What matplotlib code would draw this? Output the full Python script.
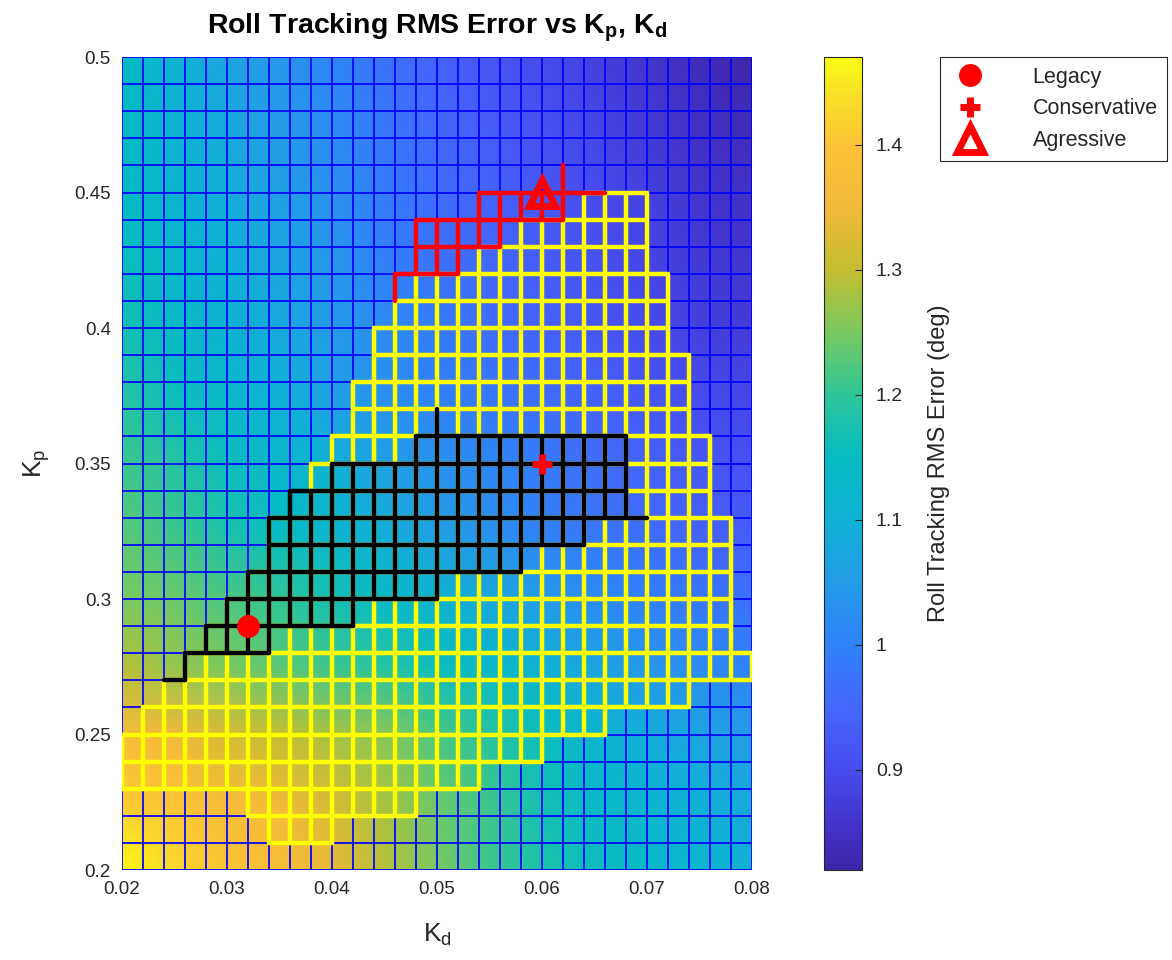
import numpy as np
import matplotlib
matplotlib.use('Agg')
import matplotlib.pyplot as plt
from matplotlib.colors import LinearSegmentedColormap
from matplotlib.collections import LineCollection

plt.rcParams['font.family'] = ['Liberation Sans', 'DejaVu Sans']
plt.rcParams['mathtext.fontset'] = 'custom'
plt.rcParams['mathtext.rm'] = 'Liberation Sans'
plt.rcParams['mathtext.it'] = 'Liberation Sans:italic'
plt.rcParams['mathtext.bf'] = 'Liberation Sans:bold'
plt.rcParams['mathtext.default'] = 'regular'

# Gain sweep grid
kd_grid = np.round(np.arange(0.02, 0.0801, 0.002), 3)
kp_grid = np.round(np.arange(0.20, 0.5001, 0.01), 2)

# RMS roll error (deg), sampled every 0.005 in Kd and 0.025 in Kp
kd_coarse = [0.020, 0.025, 0.030, 0.035, 0.040, 0.045, 0.050,
             0.055, 0.060, 0.065, 0.070, 0.075, 0.080]
kp_coarse = [0.200, 0.225, 0.250, 0.275, 0.300, 0.325, 0.350,
             0.375, 0.400, 0.425, 0.450, 0.475, 0.500]
rms_err = [
    [1.47, 1.43, 1.40, 1.38, 1.34, 1.29, 1.25, 1.21, 1.18, 1.16, 1.14, 1.12, 1.10],
    [1.41, 1.40, 1.37, 1.35, 1.32, 1.28, 1.24, 1.21, 1.17, 1.14, 1.12, 1.10, 1.08],
    [1.37, 1.35, 1.32, 1.30, 1.28, 1.26, 1.22, 1.19, 1.16, 1.12, 1.09, 1.07, 1.05],
    [1.29, 1.27, 1.25, 1.23, 1.21, 1.19, 1.16, 1.13, 1.10, 1.07, 1.04, 1.02, 1.00],
    [1.25, 1.24, 1.22, 1.20, 1.17, 1.14, 1.11, 1.08, 1.05, 1.02, 1.00, 0.98, 0.97],
    [1.23, 1.21, 1.18, 1.15, 1.12, 1.09, 1.06, 1.03, 1.00, 0.98, 0.96, 0.94, 0.93],
    [1.21, 1.19, 1.16, 1.13, 1.10, 1.06, 1.03, 1.01, 0.99, 0.96, 0.94, 0.92, 0.91],
    [1.19, 1.16, 1.13, 1.10, 1.06, 1.03, 1.00, 0.98, 0.96, 0.94, 0.92, 0.90, 0.89],
    [1.17, 1.14, 1.11, 1.08, 1.05, 1.02, 0.99, 0.96, 0.94, 0.92, 0.90, 0.88, 0.87],
    [1.16, 1.13, 1.10, 1.07, 1.04, 1.00, 0.97, 0.95, 0.93, 0.91, 0.89, 0.87, 0.86],
    [1.15, 1.12, 1.09, 1.06, 1.03, 0.99, 0.96, 0.94, 0.92, 0.90, 0.88, 0.86, 0.85],
    [1.15, 1.11, 1.08, 1.05, 1.02, 0.98, 0.95, 0.93, 0.91, 0.89, 0.87, 0.85, 0.84],
    [1.15, 1.11, 1.07, 1.04, 1.01, 0.97, 0.94, 0.92, 0.90, 0.88, 0.86, 0.84, 0.82],
]

# Regions on the grid: Kd span of the nodes in each Kp row
yellow_kp = [0.21, 0.22, 0.23, 0.24, 0.25, 0.26, 0.27, 0.28, 0.29, 0.30, 0.31, 0.32, 0.33,
             0.34, 0.35, 0.36, 0.37, 0.38, 0.39, 0.40, 0.41, 0.42, 0.43, 0.44, 0.45]
yellow_lo = [0.034, 0.032, 0.020, 0.020, 0.020, 0.022, 0.024, 0.026, 0.028, 0.030, 0.032, 0.034, 0.034,
             0.038, 0.038, 0.040, 0.042, 0.042, 0.044, 0.044, 0.046, 0.048, 0.054, 0.058, 0.064]
yellow_hi = [0.040, 0.048, 0.054, 0.060, 0.066, 0.074, 0.080, 0.080, 0.078, 0.078, 0.078, 0.078, 0.078,
             0.076, 0.076, 0.076, 0.074, 0.074, 0.074, 0.072, 0.072, 0.072, 0.070, 0.070, 0.070]

black_kp = [0.27, 0.28, 0.29, 0.30, 0.31, 0.32, 0.33, 0.34, 0.35, 0.36, 0.37]
black_lo = [0.024, 0.026, 0.028, 0.030, 0.032, 0.034, 0.034, 0.036, 0.040, 0.048, 0.050]
black_hi = [0.026, 0.034, 0.042, 0.050, 0.058, 0.064, 0.070, 0.068, 0.068, 0.068, 0.050]

red_kp = [0.41, 0.42, 0.43, 0.44, 0.45, 0.46]
red_lo = [0.046, 0.046, 0.048, 0.048, 0.054, 0.062]
red_hi = [0.046, 0.052, 0.056, 0.062, 0.066, 0.062]

# Gain sets
legacy = (0.032, 0.29)
conservative = (0.06, 0.35)
aggressive = (0.06, 0.45)

parula = LinearSegmentedColormap.from_list('parula', [
    (0.000, (0.243, 0.150, 0.660)), (0.049, (0.262, 0.190, 0.780)),
    (0.125, (0.281, 0.300, 0.940)), (0.202, (0.262, 0.410, 0.990)),
    (0.278, (0.190, 0.510, 0.980)), (0.355, (0.140, 0.615, 0.905)),
    (0.431, (0.065, 0.695, 0.835)), (0.508, (0.020, 0.735, 0.765)),
    (0.584, (0.180, 0.775, 0.600)), (0.661, (0.470, 0.790, 0.380)),
    (0.737, (0.760, 0.745, 0.190)), (0.813, (0.950, 0.725, 0.230)),
    (0.890, (0.990, 0.760, 0.215)), (0.951, (0.975, 0.870, 0.160)),
    (1.000, (0.977, 0.984, 0.080))], N=256)


def mesh_segments(kp_rows, kd_lo, kd_hi):
    segs = []
    for n, kp in enumerate(kp_rows):
        if kd_hi[n] > kd_lo[n]:
            segs.append([(kd_lo[n], kp), (kd_hi[n], kp)])
        if n + 1 < len(kp_rows):
            lo = max(kd_lo[n], kd_lo[n + 1])
            hi = min(kd_hi[n], kd_hi[n + 1])
            for kd in kd_grid[(kd_grid >= lo - 1e-9) & (kd_grid <= hi + 1e-9)]:
                segs.append([(kd, kp), (kd, kp_rows[n + 1])])
    return segs


fig = plt.figure(figsize=(11.72, 9.6), dpi=100)
ax = fig.add_axes([122 / 1172, 90 / 960, 630 / 1172, 813 / 960])
cax = fig.add_axes([824 / 1172, 90 / 960, 38 / 1172, 813 / 960])

mesh = ax.pcolormesh(kd_coarse, kp_coarse, np.array(rms_err), cmap=parula,
                     shading='gouraud', zorder=1)
ax.vlines(kd_grid, 0.2, 0.5, colors=(0, 0, 1), lw=1.25, zorder=2)
ax.hlines(kp_grid, 0.02, 0.08, colors=(0, 0, 1), lw=1.25, zorder=2)

for rows, color, z in [((yellow_kp, yellow_lo, yellow_hi), 'yellow', 3),
                       ((black_kp, black_lo, black_hi), 'black', 4),
                       ((red_kp, red_lo, red_hi), 'red', 5)]:
    lc = LineCollection(mesh_segments(*rows), colors=color, linewidths=3.2,
                        capstyle='round', joinstyle='round', zorder=z)
    ax.add_collection(lc)

ax.plot(*legacy, 'o', color='red', ms=15.5, ls='none', zorder=6, label='Legacy')
ax.plot(*conservative, '+', color='red', ms=14, mew=5, ls='none', zorder=6,
        label='Conservative')
ax.plot(*aggressive, '^', color='red', mfc='none', ms=19, mew=5, ls='none',
        zorder=6, label='Agressive')

ax.set_xlim(0.02, 0.08)
ax.set_ylim(0.2, 0.5)
ax.set_xticks([0.02, 0.03, 0.04, 0.05, 0.06, 0.07, 0.08])
ax.set_xticklabels(['0.02', '0.03', '0.04', '0.05', '0.06', '0.07', '0.08'])
ax.set_yticks([0.2, 0.25, 0.3, 0.35, 0.4, 0.45, 0.5])
ax.set_yticklabels(['0.2', '0.25', '0.3', '0.35', '0.4', '0.45', '0.5'])
ax.tick_params(length=0, labelsize=13.5, labelcolor='#262626', pad=8)
for s in ax.spines.values():
    s.set_visible(False)

ax.set_xlabel(r'K$_\mathrm{d}$', fontsize=19, color='#262626', labelpad=17)
ax.set_ylabel(r'K$_\mathrm{p}$', fontsize=19, color='#262626', labelpad=16)
ax.set_title(r'Roll Tracking RMS Error vs K$_{\mathbf{p}}$, K$_{\mathbf{d}}$',
             fontsize=20.5, fontweight='bold', color='black', pad=17)

cb = fig.colorbar(mesh, cax=cax)
cb.set_ticks([0.9, 1.0, 1.1, 1.2, 1.3, 1.4])
cb.set_ticklabels(['0.9', '1', '1.1', '1.2', '1.3', '1.4'])
cb.ax.tick_params(direction='in', length=5, width=0.8, color='#262626',
                  labelsize=14, labelcolor='#262626', pad=10)
cb.outline.set_edgecolor('#262626')
cb.outline.set_linewidth(0.8)
cb.set_label('Roll Tracking RMS Error (deg)', fontsize=17, color='#262626',
             labelpad=18)

leg = ax.legend(loc='upper left', bbox_to_anchor=(940 / 1172, 1 - 57 / 960),
                bbox_transform=fig.transFigure, borderaxespad=0, fontsize=15.5,
                numpoints=1, handlelength=1.9, handletextpad=1.95,
                labelspacing=0.5, borderpad=0.45, fancybox=False,
                framealpha=1, edgecolor='#262626')
leg.get_frame().set_linewidth(0.8)
for t in leg.get_texts():
    t.set_color('#262626')

fig.savefig('out.png', dpi=100, facecolor='white')
